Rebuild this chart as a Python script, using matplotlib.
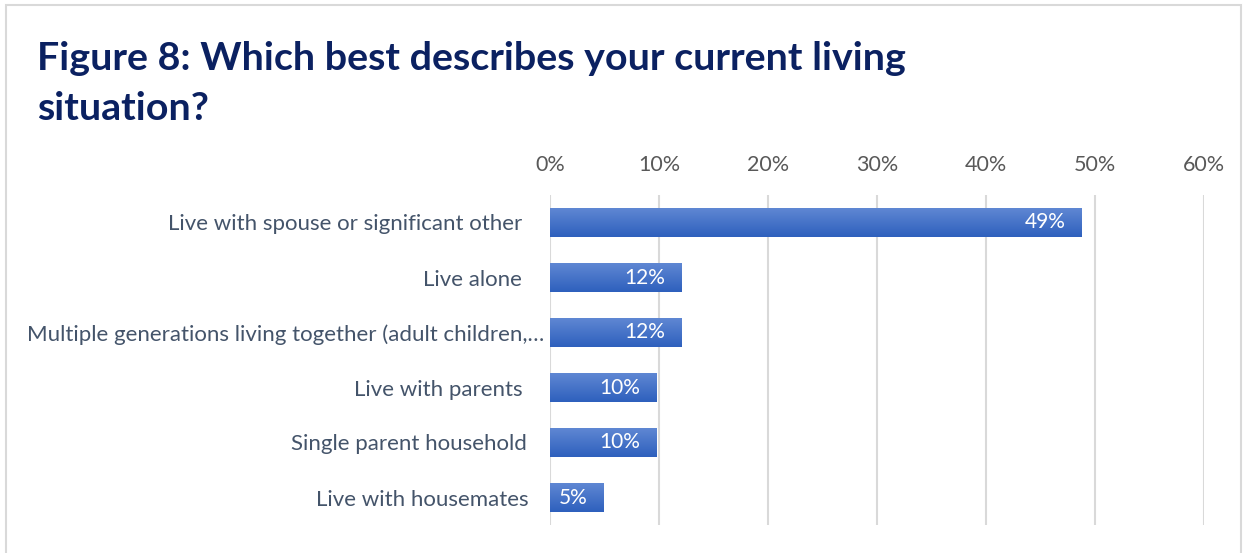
import matplotlib.pyplot as plt
import matplotlib.transforms as mtransforms
import numpy as np
from matplotlib.patches import Rectangle
from matplotlib.colors import LinearSegmentedColormap

categories = [
    "Live with spouse or significant other",
    "Live alone",
    "Multiple generations living together (adult children,\u2026",
    "Live with parents",
    "Single parent household",
    "Live with housemates",
]
values = [48.8, 12.1, 12.1, 9.8, 9.8, 4.9]
ticks = [0, 10, 20, 30, 40, 50, 60]

plt.rcParams['font.family'] = ['Lato', 'DejaVu Sans']

W, H = 1248, 553
fig = plt.figure(figsize=(W / 100, H / 100), dpi=100)

# light frame round the chart
fig.patches.append(Rectangle((6 / W, -0.1), (1241 - 6) / W, 1.1 - 5 / H,
                             transform=fig.transFigure, fill=False,
                             edgecolor='#d9d9d9', linewidth=1.5))

fig.text(37 / W, 1 - 70 / H, "Figure 8: Which best describes your current living",
         fontsize=28.4, fontweight='bold', color='#0b2161', va='baseline')
fig.text(37 / W, 1 - 120 / H, "situation?",
         fontsize=28.4, fontweight='bold', color='#0b2161', va='baseline')

ax = fig.add_axes([550 / W, 1 - 525 / H, 654 / W, 330 / H])
y = np.arange(len(categories))
bars = ax.barh(y, values, height=0.51, color='#4472c4', zorder=2)

cmap = LinearSegmentedColormap.from_list('g', ['#5f87d3', '#2e60bd'])
grad = np.linspace(0, 1, 64).reshape(-1, 1)
for b in bars:
    x0, y0 = b.get_x(), b.get_y()
    w, h = b.get_width(), b.get_height()
    im = ax.imshow(grad, cmap=cmap, aspect='auto', extent=(x0, x0 + w, y0 + h, y0),
                   origin='upper', zorder=3)
    im.set_clip_path(b)

for v, yi in zip(values, y):
    ax.text(v - 1.5, yi, f"{v:.0f}%", color='white', fontsize=15,
            ha='right', va='center', zorder=4)

ax.set_xlim(0, 60)
ax.set_ylim(len(categories) - 0.5, -0.5)
ax.set_xticks(ticks)
ax.set_xticklabels([f"{t}%" for t in ticks])
ax.xaxis.tick_top()
ax.tick_params(axis='x', length=0, pad=14.5, labelsize=15.5, labelcolor='#595959')
ax.set_yticks(y)
ax.set_yticklabels(categories)
ax.tick_params(axis='y', length=0, pad=20, labelsize=16, labelcolor='#44546a')
# the original labels do not line up exactly on the right
shifts = [0, 0, 22, 0, 5, 6]
for lab, dx in zip(ax.get_yticklabels(), shifts):
    lab.set_transform(lab.get_transform() +
                      mtransforms.ScaledTranslation(dx / 100, 0, fig.dpi_scale_trans))
ax.grid(axis='x', color='#d9d9d9', linewidth=1.5, zorder=0)
for s in ax.spines.values():
    s.set_visible(False)

fig.savefig('out.png', dpi=100)
